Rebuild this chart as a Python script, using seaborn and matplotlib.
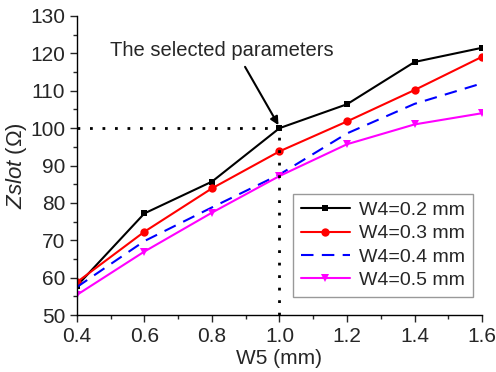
import matplotlib
matplotlib.use("Agg")
import matplotlib.pyplot as plt
import seaborn as sns
import pandas as pd
from matplotlib.ticker import MultipleLocator

w5 = [0.4, 0.6, 0.8, 1.0, 1.2, 1.4, 1.6]
z_w02 = [57.8, 77.2, 85.7, 100.0, 106.4, 117.7, 121.5]
z_w03 = [58.8, 72.3, 83.9, 93.8, 101.8, 110.2, 119.1]
z_w04 = [57.5, 69.8, 78.8, 87.6, 98.6, 106.5, 112.0]
z_w05 = [55.4, 67.0, 77.4, 87.2, 95.7, 101.0, 104.0]
labels = ["W4=0.2 mm", "W4=0.3 mm", "W4=0.4 mm", "W4=0.5 mm"]

sns.set_style("ticks")
plt.rcParams['font.family'] = ['Liberation Sans', 'DejaVu Sans']
plt.rcParams['mathtext.fontset'] = 'custom'
plt.rcParams['mathtext.it'] = 'Liberation Sans:italic'
plt.rcParams['mathtext.rm'] = 'Liberation Sans'

fig = plt.figure(figsize=(4.96, 3.72), dpi=100)
ax = fig.add_axes([0.155, 0.153, 0.817, 0.804])

series = [z_w02, z_w03, z_w04, z_w05]
styles = [
    dict(color="black", marker="s", markersize=5, linestyle="-"),
    dict(color="red", marker="o", markersize=6, linestyle="-"),
    dict(color="blue", marker=None, linestyle=(0, (6, 4))),
    dict(color="magenta", marker="v", markersize=6, linestyle="-"),
]
for vals, lab, st in zip(series, labels, styles):
    df = pd.DataFrame({"W5": w5, "Z": vals})
    sns.lineplot(data=df, x="W5", y="Z", ax=ax, label=lab, linewidth=1.5,
                 markeredgewidth=0, **st)

# selection guides
ax.plot([0.4, 1.0], [100, 100], color="black", linestyle=(0, (1, 3.5)), linewidth=2)
ax.plot([1.0, 1.0], [50, 100], color="black", linestyle=(0, (1, 3.5)), linewidth=2)
ax.text(0.83, 120.9, "The selected parameters", fontsize=14.5, ha="center", va="center")
ax.annotate("", xy=(0.997, 100.8), xytext=(0.898, 116.4),
            arrowprops=dict(arrowstyle="-|>", color="black", lw=1.5,
                            mutation_scale=12, shrinkA=0, shrinkB=0))

ax.set_xlim(0.4, 1.6)
ax.set_ylim(50, 130)
ax.xaxis.set_major_locator(MultipleLocator(0.2))
ax.xaxis.set_minor_locator(MultipleLocator(0.1))
ax.yaxis.set_major_locator(MultipleLocator(10))
ax.yaxis.set_minor_locator(MultipleLocator(5))
ax.set_xticks([0.4, 0.6, 0.8, 1.0, 1.2, 1.4, 1.6])
ax.set_xticklabels(["0.4", "0.6", "0.8", "1.0", "1.2", "1.4", "1.6"])
ax.tick_params(axis="both", which="major", labelsize=15, length=5, width=1, direction="out")
ax.tick_params(axis="both", which="minor", length=3, width=1, direction="out")
for s in ["top", "right"]:
    ax.spines[s].set_visible(False)
for s in ["left", "bottom"]:
    ax.spines[s].set_linewidth(1)
    ax.spines[s].set_color("black")

ax.set_xlabel("W5 (mm)", fontsize=15, labelpad=2)
ax.set_ylabel(r"$Zslot$ ($\Omega$)", fontsize=16, labelpad=1)

leg = ax.legend(loc="lower right", bbox_to_anchor=(473 / 496, 1 - 297 / 372),
                bbox_transform=fig.transFigure, borderaxespad=0,
                fontsize=14, frameon=True, fancybox=False,
                edgecolor="gray", handlelength=2.5,
                labelspacing=0.3, handletextpad=0.5, borderpad=0.4)
leg.get_frame().set_linewidth(1)

fig.savefig("out.png", dpi=100)
